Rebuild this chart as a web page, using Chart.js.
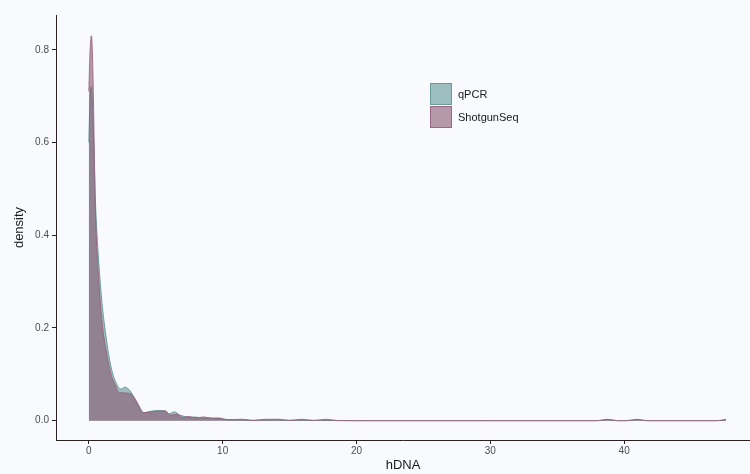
<!DOCTYPE html>
<html>
<head>
<meta charset="utf-8">
<script src="https://cdn.jsdelivr.net/npm/chart.js@4/dist/chart.umd.min.js"></script>
<style>
html,body{margin:0;padding:0;background:#f8fafd;}
#wrap{position:relative;width:750px;height:474px;}
canvas{display:block;}
</style>
</head>
<body>
<div id="wrap"><canvas id="c" width="750" height="474"></canvas></div>
<script>
// Series names
const seriesNames = ["qPCR", "ShotgunSeq"];
// hDNA positions and density values
const qpcrX = [0, 0.1, 0.2, 0.3, 0.5, 0.75, 1.0, 1.2, 1.5, 1.8, 2.1, 2.4, 2.7, 3.1, 3.5, 3.9, 4.2, 4.6, 5.2, 5.7, 6.0, 6.4, 6.8, 7.2, 7.6, 8.0, 8.5, 9.0, 9.5, 10.0, 10.5, 11.3, 12.0, 13.0, 14.0, 15.0, 16.0, 17.5, 18.5, 20, 30, 38.0, 38.75, 39.5, 40.2, 40.96, 41.7, 47.0, 47.6];
const qpcrY = [0.60, 0.70, 0.72, 0.66, 0.47, 0.34, 0.25, 0.20, 0.14, 0.10, 0.078, 0.068, 0.072, 0.064, 0.043, 0.021, 0.017, 0.020, 0.022, 0.021, 0.015, 0.019, 0.012, 0.009, 0.007, 0.008, 0.005, 0.006, 0.005, 0.004, 0.002, 0.0015, 0.0005, 0.0012, 0.001, 0.0008, 0.0006, 0.0004, 0.0002, 0, 0, 0, 0.002, 0, 0, 0.002, 0, 0, 0.002];
const shotX = [0, 0.1, 0.2, 0.3, 0.5, 0.75, 1.0, 1.3, 1.7, 2.0, 2.2, 2.5, 3.0, 3.3, 3.7, 4.1, 4.5, 5.0, 5.7, 6.1, 6.6, 7.0, 7.5, 8.0, 8.6, 9.2, 9.7, 10.3, 11.5, 12.3, 13.2, 14.25, 15.0, 15.9, 16.8, 17.75, 18.6, 20, 30, 38.0, 38.75, 39.5, 40.2, 40.96, 41.7, 47.0, 47.6];
const shotY = [0.71, 0.80, 0.83, 0.76, 0.45, 0.30, 0.21, 0.15, 0.096, 0.076, 0.062, 0.060, 0.059, 0.054, 0.035, 0.017, 0.019, 0.020, 0.021, 0.012, 0.014, 0.007, 0.009, 0.006, 0.008, 0.005, 0.006, 0.002, 0.003, 0.0005, 0.003, 0.003, 0.0005, 0.003, 0.0005, 0.003, 0.0002, 0, 0, 0, 0.003, 0, 0, 0.003, 0, 0, 0.003];
// Tick labels
const xTicks = [0, 10, 20, 30, 40];
const yTicks = [0.0, 0.2, 0.4, 0.6, 0.8];

const toPts = (xs, ys) => xs.map((x, i) => ({x: x, y: ys[i]}));

const BG = '#f8fafd';
const tealFill = 'rgba(99,151,150,0.6)';
const tealLine = 'rgba(99,151,150,0.9)';
const pinkFill = 'rgba(136,89,115,0.6)';
const pinkLine = 'rgba(150,95,125,0.85)';
const axisCol = '#2a2020';
const tickCol = '#4d4d4d';
const FONT = '"Liberation Sans", Arial, sans-serif';

const bgPlugin = {
  id: 'bg',
  beforeDraw(chart) {
    const ctx = chart.ctx;
    ctx.save();
    ctx.fillStyle = BG;
    ctx.fillRect(0, 0, chart.width, chart.height);
    ctx.restore();
  }
};

const legendPlugin = {
  id: 'customLegend',
  afterDraw(chart) {
    const ctx = chart.ctx;
    const items = [
      {label: seriesNames[0], fill: tealFill, line: tealLine},
      {label: seriesNames[1], fill: pinkFill, line: pinkLine}
    ];
    ctx.save();
    items.forEach((it, i) => {
      const x = 430, y = 83 + i * 23;
      ctx.fillStyle = BG;
      ctx.fillRect(x, y, 22, 22);
      ctx.fillStyle = it.fill;
      ctx.fillRect(x, y, 22, 22);
      ctx.strokeStyle = it.line;
      ctx.lineWidth = 1;
      ctx.strokeRect(x + 0.5, y + 0.5, 21, 21);
      ctx.fillStyle = '#1a1a1a';
      ctx.font = '11px ' + FONT;
      ctx.textBaseline = 'middle';
      ctx.textAlign = 'left';
      ctx.fillText(it.label, x + 28, y + 11.5);
    });
    ctx.restore();
  }
};

new Chart(document.getElementById('c'), {
  type: 'line',
  data: {
    datasets: [
      {
        label: seriesNames[0],
        data: toPts(qpcrX, qpcrY),
        backgroundColor: tealFill,
        borderColor: tealLine,
        borderWidth: 1,
        fill: 'origin',
        pointRadius: 0,
        cubicInterpolationMode: 'monotone',
        order: 2
      },
      {
        label: seriesNames[1],
        data: toPts(shotX, shotY),
        backgroundColor: pinkFill,
        borderColor: pinkLine,
        borderWidth: 1,
        fill: 'origin',
        pointRadius: 0,
        cubicInterpolationMode: 'monotone',
        order: 1
      }
    ]
  },
  options: {
    responsive: false,
    animation: false,
    devicePixelRatio: 1,
    layout: {padding: {top: 15, right: 0, left: 0, bottom: 0}},
    plugins: {legend: {display: false}, tooltip: {enabled: false}},
    scales: {
      x: {
        type: 'linear',
        min: -2.45,
        max: 49.4,
        afterBuildTicks: s => { s.ticks = xTicks.map(v => ({value: v})); },
        afterFit: s => { s.height = 34; },
        grid: {drawOnChartArea: false, drawTicks: true, tickLength: 4, color: axisCol},
        border: {display: true, color: axisCol, width: 1},
        ticks: {color: tickCol, font: {family: FONT, size: 10}, padding: 1, maxRotation: 0, callback: v => String(v)},
        title: {display: true, text: 'hDNA', color: '#1a1a1a', font: {family: FONT, size: 13}, padding: {top: 0, bottom: 1}}
      },
      y: {
        type: 'linear',
        min: -0.0417,
        max: 0.875,
        afterBuildTicks: s => { s.ticks = yTicks.map(v => ({value: v})); },
        afterFit: s => { s.width = 56; },
        grid: {drawOnChartArea: false, drawTicks: true, tickLength: 4, color: axisCol},
        border: {display: true, color: axisCol, width: 1},
        ticks: {color: tickCol, font: {family: FONT, size: 10}, padding: 3, callback: v => Number(v).toFixed(1)},
        title: {display: true, text: 'density', color: '#1a1a1a', font: {family: FONT, size: 13}, padding: {top: 12, bottom: 0}}
      }
    }
  },
  plugins: [bgPlugin, legendPlugin]
});
</script>
</body>
</html>
